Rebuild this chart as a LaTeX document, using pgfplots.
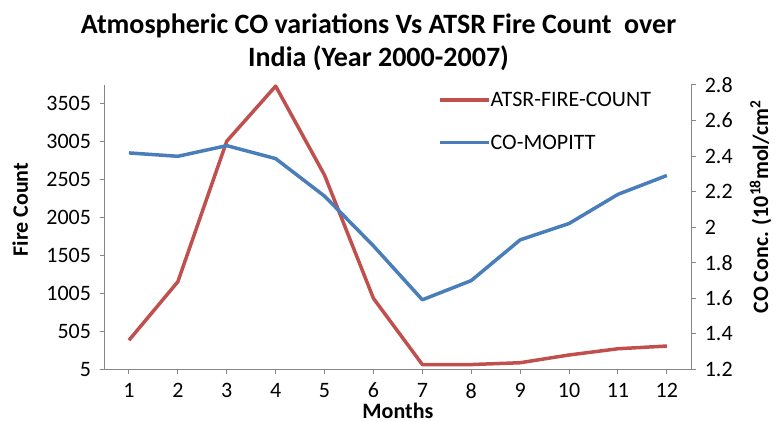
\documentclass[border=0pt]{standalone}
\usepackage{pgfplots}
\pgfplotsset{compat=1.18}
\usepackage{fontspec}
\setmainfont{Carlito}
\definecolor{firered}{RGB}{192,80,77}
\definecolor{coblue}{RGB}{74,126,187}
\definecolor{axgray}{RGB}{134,134,134}
\pgfplotstableread{
m fire
1 390
2 1160
3 3010
4 3735
5 2563
6 941
7 70
8 70
9 94
10 196
11 278
12 314
}\firedata
\pgfplotstableread{
m co
1 2.418
2 2.399
3 2.459
4 2.386
5 2.175
6 1.895
7 1.592
8 1.700
9 1.929
10 2.021
11 2.185
12 2.291
}\codata
\begin{document}
\begin{tikzpicture}
\path[use as bounding box] (0pt,0pt) rectangle (777pt,422pt);
\pgfplotsset{
  every axis/.append style={
    at={(104.5pt,52.5pt)}, anchor=south west,
    scale only axis, width=586.8pt, height=284.5pt,
    xmin=0.5, xmax=12.5,
    tick align=outside, major tick length=5pt,
    axis line style={axgray, line width=1pt},
    every tick/.style={axgray, line width=1pt},
    tick label style={font=\fontsize{22}{26}\selectfont, text=black},
    /pgf/number format/assume math mode=true,
    clip=false,
  },
}
\begin{axis}[
  axis x line*=bottom, axis y line*=left,
  ymin=5, ymax=3750,
  ytick={5,505,1005,1505,2005,2505,3005,3505},
  xtick={1,...,12},
  /pgf/number format/fixed, /pgf/number format/1000 sep={},
  yticklabel style={xshift=-5pt},
  xticklabel style={yshift=-5pt},
  ylabel={Fire Count},
  xlabel={Months},
  every axis y label/.style={at={(axis description cs:-0.1304,0.385)}, rotate=90, anchor=base west, font=\bfseries\fontsize{22}{26}\selectfont},
  every axis x label/.style={at={(axis description cs:0.5,-0.1705)}, anchor=base, font=\bfseries\fontsize{22}{26}\selectfont},
  title={Atmospheric CO variations Vs ATSR Fire Count\ \ over\\India (Year 2000-2007)},
  title style={align=center, font=\bfseries\fontsize{28}{33}\selectfont, inner sep=0pt,
    at={(axis description cs:0.467,1)}, anchor=south, yshift=8pt},
]
\addplot[firered, line width=3.5pt, line join=round] table[x=m, y=fire] {\firedata};
\end{axis}
\begin{axis}[
  axis x line=none, axis y line*=right,
  ymin=1.2, ymax=2.8,
  ytick={1.2,1.4,...,2.8},
  /pgf/number format/fixed, /pgf/number format/precision=1,
  yticklabel style={xshift=5pt},
  ylabel={CO Conc. (10\textsuperscript{18}mol/cm\textsuperscript{2}},
  every axis y label/.style={at={(axis description cs:1.1307,0.1845)}, rotate=90, anchor=base west, font=\bfseries\fontsize{22}{26}\selectfont},
  legend style={draw=none, fill=none, font=\fontsize{22}{26}\selectfont,
    at={(axis description cs:0.5683,0.976)}, anchor=north west, inner sep=0pt,
    row sep=27pt, nodes={inner sep=0pt}},
  legend cell align=left,
  legend image code/.code={\draw[#1] (0pt,0pt) -- (49pt,0pt);},
]
\addlegendimage{firered, line width=3.5pt}
\addlegendentry{ATSR-FIRE-COUNT}
\addplot[coblue, line width=3.5pt, line join=round] table[x=m, y=co] {\codata};
\addlegendentry{CO-MOPITT}
\end{axis}
\end{tikzpicture}
\end{document}
